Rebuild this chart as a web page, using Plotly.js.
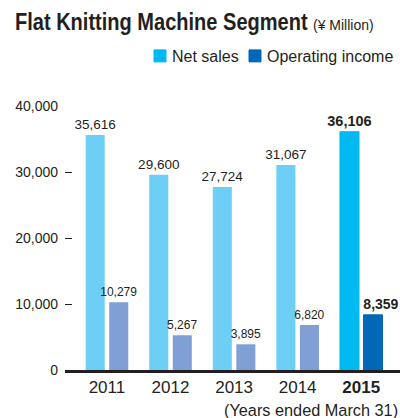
<!DOCTYPE html>
<html>
<head>
<meta charset="utf-8">
<script src="https://cdn.plot.ly/plotly-3.0.1.min.js"></script>
<style>
html,body{margin:0;padding:0;background:#fff;}
#chart{width:400px;height:418px;}
</style>
</head>
<body>
<div id="chart"></div>
<script>
// ---- data ----
var years = ['2011', '2012', '2013', '2014', '2015'];
var netSales = [35616, 29600, 27724, 31067, 36106];
var opIncome = [10279, 5267, 3895, 6820, 8359];
var tickLabels = ['2011', '2012', '2013', '2014', '<b>2015</b>'];
var yTicks = [0, 10000, 20000, 30000, 40000];

var FONT = 'Liberation Sans, Arial, Helvetica, sans-serif';
var TXT = '#231f20';

var past = years.length - 1;

var traces = [
  {
    type: 'bar', x: years.slice(0, past), y: netSales.slice(0, past),
    offsetgroup: 'ns', showlegend: false, name: 'Net sales',
    marker: {color: '#6dcff6'},
    texttemplate: '%{y:,}', textposition: 'outside', constraintext: 'none',
    cliponaxis: false, textfont: {family: FONT, size: 13.5, color: TXT},
    hoverinfo: 'skip'
  },
  {
    type: 'bar', x: years.slice(past), y: netSales.slice(past),
    offsetgroup: 'ns', showlegend: true, name: 'Net sales',
    marker: {color: '#00b9f1', line: {color: '#00b9f1', width: 1}},
    texttemplate: '<b>%{y:,}</b>', textposition: 'outside', constraintext: 'none',
    cliponaxis: false, textfont: {family: FONT, size: 14.5, color: TXT},
    hoverinfo: 'skip'
  },
  {
    type: 'bar', x: years.slice(0, past), y: opIncome.slice(0, past),
    offsetgroup: 'oi', showlegend: false, name: 'Operating income',
    marker: {color: '#809fd4'},
    texttemplate: '%{y:,}', textposition: 'outside', constraintext: 'none',
    cliponaxis: false, textfont: {family: FONT, size: 12, color: TXT},
    hoverinfo: 'skip'
  },
  {
    type: 'bar', x: years.slice(past), y: opIncome.slice(past),
    offsetgroup: 'oi', showlegend: true, name: 'Operating income',
    marker: {color: '#0068b7', line: {color: '#0068b7', width: 1}},
    texttemplate: '<b>%{y:,}</b>', textposition: 'outside', constraintext: 'none',
    cliponaxis: false, textfont: {family: FONT, size: 14, color: TXT},
    hoverinfo: 'skip'
  }
];

var layout = {
  width: 400, height: 418,
  margin: {l: 65, r: 0, t: 106, b: 48, pad: 0},
  paper_bgcolor: '#fff', plot_bgcolor: '#fff',
  font: {family: FONT, color: TXT},
  barmode: 'group', bargap: 0.26, bargroupgap: 0.19,
  title: {
    text: '<b>Flat Knitting Machine Segment</b>',
    font: {family: FONT, size: 24, color: TXT},
    xref: 'container', yref: 'container', x: 15 / 400, xanchor: 'left',
    y: 1 - 22 / 418, yanchor: 'middle'
  },
  legend: {
    orientation: 'h', x: (132 - 65) / 335, xanchor: 'left', y: 1 + 50 / 264, yanchor: 'middle',
    font: {family: FONT, size: 16, color: TXT}, traceorder: 'normal',
    entrywidth: 50, entrywidthmode: 'pixels',
    itemclick: false, itemdoubleclick: false, bgcolor: 'rgba(0,0,0,0)'
  },
  xaxis: {
    type: 'category', range: [-0.66, 4.61], fixedrange: true,
    tickmode: 'array', tickvals: years, ticktext: tickLabels,
    ticks: '', showline: true, linewidth: 3, linecolor: '#231f20',
    showgrid: false, zeroline: false,
    tickfont: {family: FONT, size: 17, color: TXT}
  },
  yaxis: {
    range: [0, 40000], fixedrange: true,
    tickmode: 'array', tickvals: yTicks, tickformat: ',d',
    ticks: 'inside', ticklen: 7, tickwidth: 1, tickcolor: '#231f20',
    showline: false, showgrid: false, zeroline: false,
    ticklabelstandoff: 6,
    tickfont: {family: FONT, size: 14, color: TXT}
  },
  annotations: [
    {
      text: '(Years ended March 31)', xref: 'paper', yref: 'paper',
      x: 1, xanchor: 'right', y: 0, yanchor: 'middle', yshift: -40,
      showarrow: false, font: {family: FONT, size: 16.3, color: TXT}
    },
    {
      text: '(¥ Million)', xref: 'paper', yref: 'paper',
      x: (311 - 65) / 335, xanchor: 'left', y: (370 - 25) / 264, yanchor: 'middle',
      showarrow: false, font: {family: FONT, size: 14, color: TXT}
    }
  ]
};

function addTransform(el, tr) {
  var prev = el.getAttribute('transform') || '';
  el.setAttribute('transform', (prev + ' ' + tr).trim());
}

Plotly.newPlot('chart', traces, layout, {displayModeBar: false, staticPlot: true}).then(function (gd) {
  // condensed look for the bold title (horizontal squeeze, text stays text)
  var t = gd.querySelector('.gtitle');
  if (t) {
    var x0 = parseFloat(t.getAttribute('x')) || 0;
    var s = 0.835;
    addTransform(t, 'matrix(' + s + ',0,0,1,' + (x0 * (1 - s)) + ',0)');
  }
  // let the legend labels show in full and keep swatches close to their labels
  gd.querySelectorAll('.legend .scrollbox').forEach(function (g) {
    g.removeAttribute('clip-path');
  });
  gd.querySelectorAll('.legend g.legendpoints').forEach(function (g) {
    addTransform(g, 'translate(8,0)');
  });
  // 2015 operating income label sits a bit to the right, as in the source
  var barTraces = gd.querySelectorAll('.barlayer g.trace');
  if (barTraces.length === 4) {
    barTraces[3].querySelectorAll('text').forEach(function (tx) {
      addTransform(tx, 'translate(8,0)');
    });
  }
});
</script>
</body>
</html>
